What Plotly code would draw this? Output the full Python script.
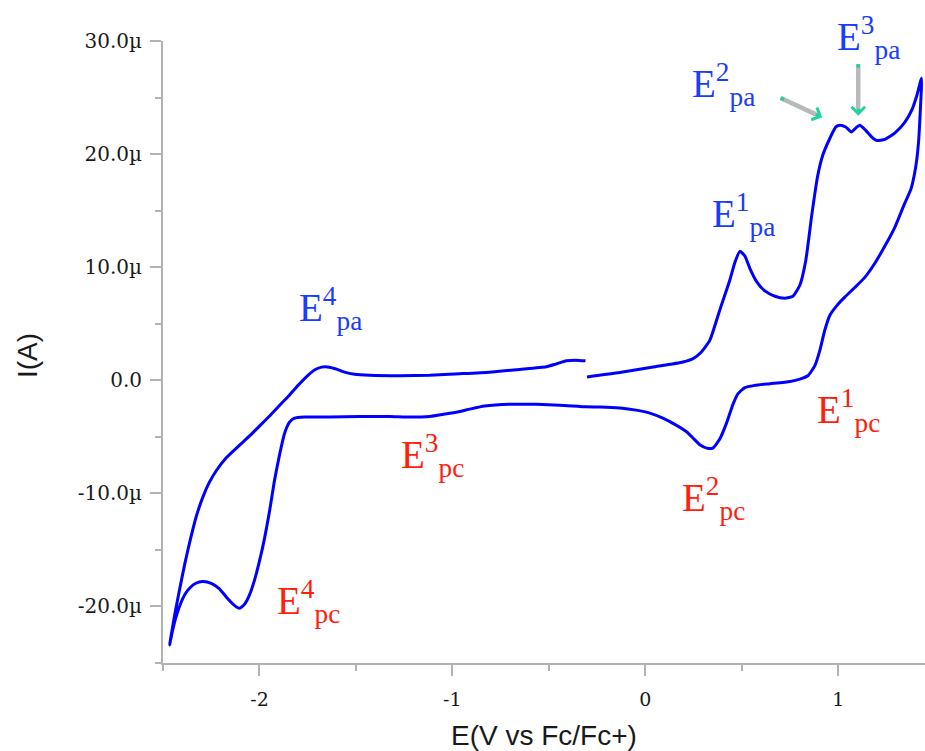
import plotly.graph_objects as go

# Cyclic voltammogram, one full cycle starting at -0.30 V (anodic first)
potential_V = [
    -0.302, -0.132, 0.041, 0.196, 0.248, 0.291, 0.335, 0.386, 0.438, 0.464, 0.490,
    0.516, 0.542, 0.578, 0.620, 0.672, 0.723, 0.765, 0.801, 0.832, 0.863, 0.894,
    0.920, 0.957, 0.988, 1.008, 1.039, 1.069, 1.091, 1.112, 1.143, 1.174, 1.200,
    1.242, 1.293, 1.345, 1.382, 1.408, 1.432,
    1.425, 1.418, 1.408, 1.395, 1.377, 1.341, 1.294, 1.242, 1.190, 1.138, 1.086,
    1.034, 0.993, 0.957, 0.930, 0.905, 0.879, 0.843, 0.801, 0.750, 0.646, 0.568,
    0.516, 0.480, 0.454, 0.423, 0.386, 0.350, 0.319, 0.283, 0.247, 0.214, 0.153,
    0.091, 0.024, -0.048, -0.132, -0.236, -0.305, -0.443, -0.564, -0.703, -0.833,
    -0.910, -0.973, -1.040, -1.118, -1.222, -1.325, -1.480, -1.636, -1.766, -1.818,
    -1.844, -1.870, -1.896, -1.922, -1.948, -1.974, -2.000, -2.026, -2.052, -2.077,
    -2.103, -2.130, -2.170, -2.210, -2.250, -2.294, -2.330, -2.360, -2.385, -2.410,
    -2.432, -2.450, -2.466,
    -2.452, -2.440, -2.414, -2.388, -2.363, -2.328, -2.295, -2.262, -2.224, -2.172,
    -2.103, -2.050, -2.000, -1.950, -1.900, -1.844, -1.800, -1.766, -1.715, -1.678,
    -1.637, -1.600, -1.559, -1.507, -1.429, -1.273, -1.118, -0.962, -0.807, -0.651,
    -0.513, -0.464, -0.409, -0.360, -0.310,
]
current_uA = [
    0.29, 0.68, 1.17, 1.62, 1.92, 2.50, 3.55, 6.20, 8.85, 10.40, 11.40,
    11.00, 9.90, 8.70, 7.90, 7.43, 7.26, 7.43, 8.40, 10.60, 14.60, 18.10,
    19.90, 21.40, 22.40, 22.55, 22.40, 21.96, 22.30, 22.55, 22.10, 21.50, 21.20,
    21.30, 21.85, 22.80, 23.90, 25.20, 26.70,
    23.60, 21.40, 19.60, 18.20, 16.90, 15.49, 13.55, 11.87, 10.35, 9.10, 8.20,
    7.35, 6.60, 5.75, 4.40, 2.65, 1.30, 0.40, 0.10, -0.10, -0.30, -0.45,
    -0.65, -1.20, -2.15, -3.70, -5.20, -6.00, -6.00, -5.70, -5.10, -4.55, -3.90,
    -3.35, -2.90, -2.64, -2.46, -2.37, -2.35, -2.20, -2.13, -2.12, -2.28,
    -2.55, -2.80, -2.99, -3.20, -3.25, -3.20, -3.20, -3.25, -3.25, -3.35,
    -3.70, -4.70, -6.60, -8.85, -11.60, -14.00, -16.00, -17.70, -19.00, -19.80,
    -20.16, -19.90, -19.20, -18.40, -17.95, -17.80, -17.95, -18.35, -18.90, -19.80,
    -20.90, -22.10, -23.41,
    -22.00, -20.80, -18.50, -16.30, -14.42, -12.07, -10.40, -9.10, -8.00, -6.85,
    -5.73, -4.90, -4.05, -3.20, -2.30, -1.30, -0.45, 0.15, 0.90, 1.16,
    1.16, 0.98, 0.72, 0.54, 0.45, 0.41, 0.45, 0.58, 0.72, 0.96,
    1.19, 1.43, 1.72, 1.78, 1.72,
]

x_ticks = [-2, -1, 0, 1]
x_tick_labels = ["-2", "-1", "0", "1"]
y_ticks = [30, 20, 10, 0, -10, -20]
y_tick_labels = ["30.0µ", "20.0µ", "10.0µ", "0.0", "-10.0µ", "-20.0µ"]

# Peak labels: (superscript index, subscript, x, y)
anodic_labels = [
    ("1", "pa", 0.350, 14.68),
    ("2", "pa", 0.246, 26.13),
    ("4", "pa", -1.792, 6.38),
]
cathodic_labels = [
    ("1", "pc", 0.894, -2.64),
    ("2", "pc", 0.194, -10.42),
    ("3", "pc", -1.263, -6.62),
    ("4", "pc", -1.906, -19.52),
]
# E3pa sits just above the top of the current axis
top_label = ("3", "pa", 0.998, 1.0051)

AXIS_GREY = "#b3b3b3"
LABEL_BLUE = "#1a3cff"
LABEL_RED = "#ff200c"
ARROW_GREEN = "#1fd3a0"
LABEL_FONT = "Liberation Serif"

fig = go.Figure()
fig.add_trace(go.Scatter(
    x=potential_V, y=current_uA, mode="lines",
    line=dict(color="#0000ff", width=3, shape="spline", smoothing=0.5),
    showlegend=False, hoverinfo="skip",
))

annotations = []
for labels, color in ((anodic_labels, LABEL_BLUE), (cathodic_labels, LABEL_RED)):
    for sup, sub, x, y in labels:
        annotations.append(dict(
            x=x, y=y, xref="x", yref="y", xanchor="left", yanchor="middle",
            xshift=-3, text=f"E<sup>{sup}</sup><sub>{sub}</sub>", showarrow=False,
            font=dict(family=LABEL_FONT, size=39, color=color),
        ))
sup, sub, x, y = top_label
annotations.append(dict(
    x=x, y=y, xref="x", yref="paper", xanchor="left", yanchor="middle",
    xshift=-3, text=f"E<sup>{sup}</sup><sub>{sub}</sub>", showarrow=False,
    font=dict(family=LABEL_FONT, size=39, color=LABEL_BLUE),
))

# Arrows pointing at the two close anodic peaks (grey shaft, green head and tail)
for tip_x, tip_y, ax, ay in ((0.917, 23.25, -43, -20), (1.104, 23.4, 0, -53)):
    length = (ax ** 2 + ay ** 2) ** 0.5
    annotations.append(dict(
        x=tip_x, y=tip_y, xref="x", yref="y", ax=ax, ay=ay, text="",
        showarrow=True, arrowhead=4, arrowsize=0.75, arrowwidth=3.5,
        arrowcolor=ARROW_GREEN,
    ))
    annotations.append(dict(
        x=tip_x, y=tip_y, xref="x", yref="y", ax=ax, ay=ay, text="",
        showarrow=True, arrowhead=0, arrowwidth=4.5, arrowcolor="#b9b9b9",
        standoff=7, startstandoff=0,
    ))
    annotations.append(dict(
        x=tip_x, y=tip_y, xref="x", yref="y", ax=ax, ay=ay, text="",
        showarrow=True, arrowhead=0, arrowwidth=3.5, arrowcolor=ARROW_GREEN,
        standoff=int(length - 5),
    ))

# Axis titles
annotations.append(dict(
    x=0.5, y=0, xref="paper", yref="paper", yshift=-72,
    xanchor="center", yanchor="middle", text="E(V vs Fc/Fc+)", showarrow=False,
    font=dict(family="Liberation Sans", size=28, color="#1a1a1a"),
))
annotations.append(dict(
    x=0, y=0.5, xref="paper", yref="paper", xshift=-136, yshift=-4,
    xanchor="center", yanchor="middle", text="I(A)", textangle=-90, showarrow=False,
    font=dict(family="Liberation Sans", size=28, color="#1a1a1a"),
))

fig.update_layout(
    width=925, height=751, autosize=False,
    margin=dict(l=163, r=0, t=41, b=88),
    paper_bgcolor="white", plot_bgcolor="white",
    annotations=annotations,
    xaxis=dict(
        range=[-2.5, 1.45], showgrid=False, zeroline=False,
        showline=True, linecolor=AXIS_GREY, linewidth=2,
        tickmode="array", tickvals=x_ticks, ticktext=x_tick_labels,
        ticks="outside", ticklen=11, tickwidth=1.5, tickcolor=AXIS_GREY,
        minor=dict(dtick=0.5, tick0=-2.5, ticks="outside", ticklen=6,
                   tickwidth=1.5, tickcolor=AXIS_GREY),
        tickfont=dict(family="DejaVu Serif", size=19, color="#1a1a1a"),
        ticklabelstandoff=7,
    ),
    yaxis=dict(
        range=[-25, 30], showgrid=False, zeroline=False,
        showline=True, linecolor=AXIS_GREY, linewidth=2,
        tickmode="array", tickvals=y_ticks, ticktext=y_tick_labels,
        ticks="outside", ticklen=11, tickwidth=1.5, tickcolor=AXIS_GREY,
        minor=dict(dtick=5, tick0=-25, ticks="outside", ticklen=6,
                   tickwidth=1.5, tickcolor=AXIS_GREY),
        tickfont=dict(family="DejaVu Serif", size=20, color="#1a1a1a"),
        ticklabelstandoff=4,
    ),
)

fig.write_html("out.html")
